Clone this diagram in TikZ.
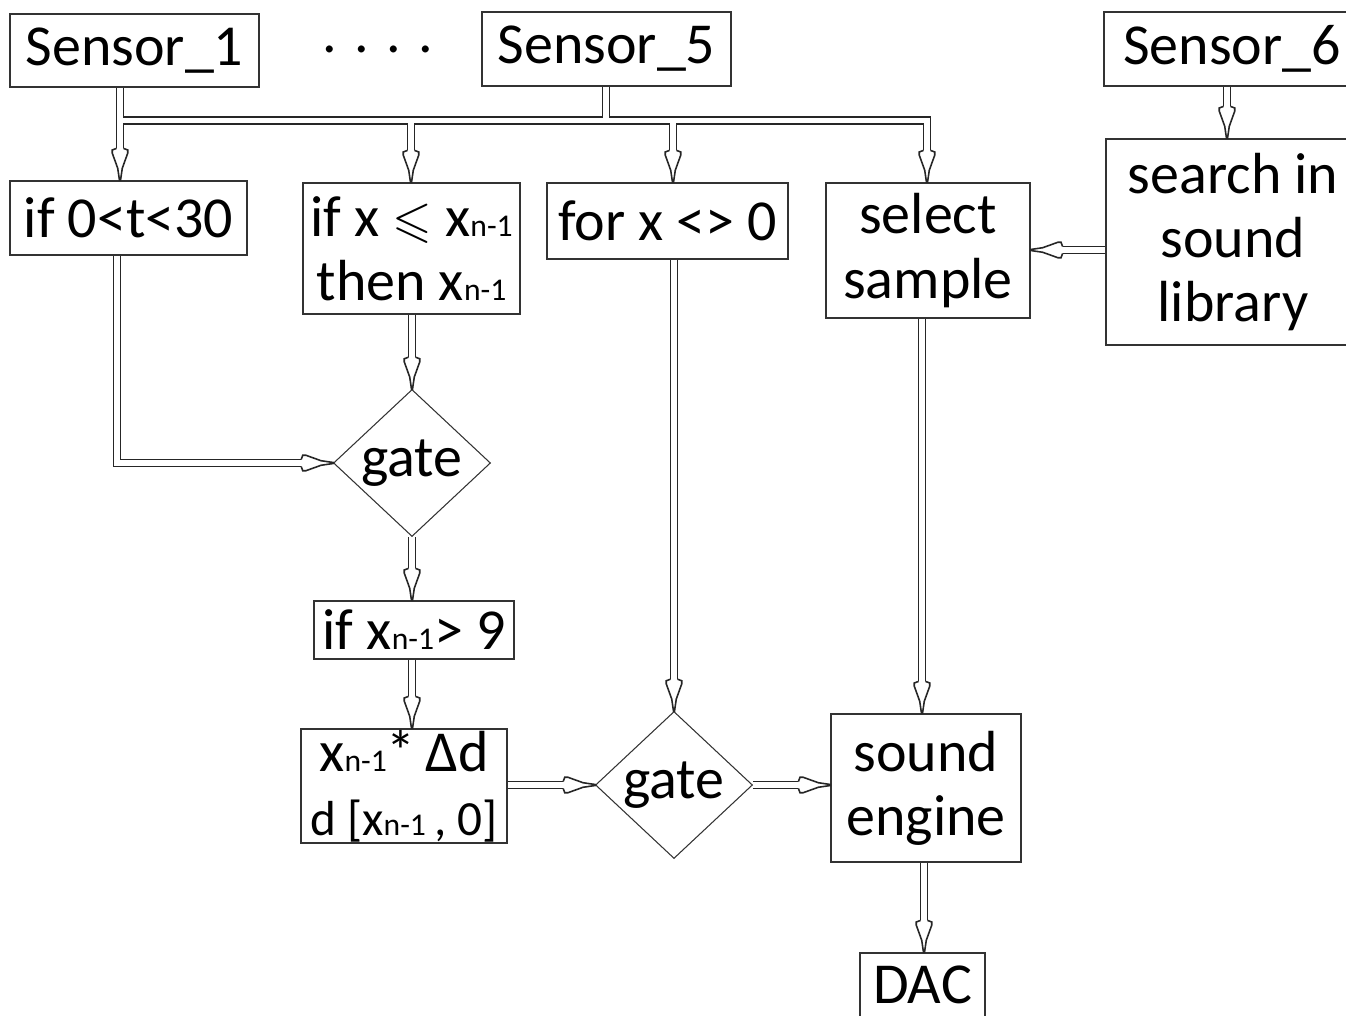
\documentclass[tikz,border=0pt]{standalone}
\usepackage{amssymb}
\usepackage{fontspec}
\setmainfont{Carlito}
\usetikzlibrary{shapes.geometric,decorations.markings,calc}

% one unit of the drawing grid
\def\pxu{0.02cm}
\newcommand\bodyfont{\fontsize{33}{36.5}\selectfont}
\newcommand\smallfont{\fontsize{28}{32}\selectfont}
\newcommand\subn{{\fontsize{18}{18}\selectfont n-1}}
\newcommand\leqsym{{\fontsize{29}{29}\selectfont$\leqslant$}}

\tikzset{
  box/.style={draw=black!80, line width=0.9pt, inner sep=0pt, align=center, font=\bodyfont},
  gatebox/.style={diamond, draw=black!80, line width=0.6pt, inner sep=-3pt, font=\bodyfont,
    minimum width=157*\pxu, minimum height=147*\pxu},
  pipe/.style={draw=black!85, line width=0.9pt, double=white, double distance=3.1pt},
  tip/.style={postaction={decorate, decoration={markings, mark=at position 1 with {
      \draw[draw=black!85, line width=0.9pt, fill=white, line join=miter,
            shorten >=0pt, shorten <=0pt]
        (-18.1pt,2pt) -- (-17.2pt,4.4pt) -- (-15.4pt,4.4pt) -- (-6.8pt,1.3pt) -- (0pt,0.3pt)
        -- (0pt,-0.3pt) -- (-6.8pt,-1.3pt) -- (-15.4pt,-4.4pt) -- (-17.2pt,-4.4pt) -- (-18.1pt,-2pt);}}}},
  flow/.style={pipe, shorten >=18pt, tip},
}

\begin{document}
\begin{tikzpicture}[x=0.02cm, y=-0.02cm]
\useasboundingbox (0,0) rectangle (1346,1016);

% sensors
\node[box, minimum width=249*\pxu, minimum height=73*\pxu] (s1) at (134.5,50.5) {Sensor\_1};
\node[anchor=base, font=\bodyfont, inner sep=0pt] (dots) at (378,53) {. . . .};
\node[box, minimum width=249*\pxu, minimum height=74*\pxu] (s5) at (606.5,49) {Sensor\_5};
\node[box, minimum width=256*\pxu, minimum height=74*\pxu] (s6) at (1232,49) {Sensor\_6};

% first processing row
\node[box, minimum width=237*\pxu, minimum height=74*\pxu] (if0) at (128.5,218) {if 0<t<30};
\node[box, minimum width=217*\pxu, minimum height=131*\pxu] (ifx) at (411.5,248.5)
  {if x \leqsym\ x\subn\\then x\subn};
\node[box, minimum width=241*\pxu, minimum height=76*\pxu] (forx) at (667.5,221) {for x <> 0};
\node[box, minimum width=204*\pxu, minimum height=135*\pxu] (sel) at (928,250.5) {select\\sample};
\node[box, minimum width=254*\pxu, minimum height=206*\pxu] (search) at (1233,242)
  {search in\\sound\\library};

% gates and processing chain
\node[gatebox] (gate1) at (412,463) {gate};
\node[box, minimum width=200*\pxu, minimum height=58*\pxu] (ifx9) at (414,630) {if x\subn> 9};
\node[box, minimum width=206*\pxu, minimum height=114*\pxu] (mul) at (404,786)
  {x\subn*\,Δd\\{\smallfont d [x\subn\,, 0]}};
\node[gatebox] (gate2) at (674,785) {gate};
\node[box, minimum width=190*\pxu, minimum height=148*\pxu] (eng) at (926,788) {sound\\engine};
\node[box, minimum width=125*\pxu, minimum height=64*\pxu] (dac) at (922.5,985) {DAC};

% connector columns and rows
\coordinate (bus) at (0,120.5);
\coordinate (cA) at (120,0);
\coordinate (cB) at (411,0);
\coordinate (cC) at (673,0);
\coordinate (cD) at (927,0);
\coordinate (cE) at (606,0);
\coordinate (cF) at (117,0);
\coordinate (cG) at (1227,0);
\coordinate (cH) at (0,250);
\coordinate (cI) at (922,0);
\coordinate (cJ) at (924,0);

% sensor bus feeding the first row
\draw[pipe]
  (s1.south -| cA) -- ($(if0.north -| cA)+(0,18pt)$)
  (s5.south -| cE) -- (cE |- bus) -- (cA |- bus)
  (cE |- bus) -- (cD |- bus) -- ($(sel.north -| cD)+(0,18pt)$)
  (cB |- bus) -- ($(ifx.north -| cB)+(0,18pt)$)
  (cC |- bus) -- ($(forx.north -| cC)+(0,18pt)$);
\path[tip] (s1.south -| cA) -- (if0.north -| cA);
\path[tip] (cB |- bus) -- (ifx.north -| cB);
\path[tip] (cC |- bus) -- (forx.north -| cC);
\path[tip] (cD |- bus) -- (sel.north -| cD);

% remaining connectors
\draw[flow] (s6.south -| cG) -- (search.north -| cG);
\draw[flow] (search.west |- cH) -- (sel.east |- cH);
\draw[flow] (if0.south -| cF) |- (gate1.west);
\draw[flow] (ifx.south -| gate1.north) -- (gate1.north);
\draw[flow] (gate1.south) -- (ifx9.north -| gate1.south);
\draw[flow] (ifx9.south -| gate1.south) -- (mul.north -| gate1.south);
\draw[flow] (forx.south -| gate2.north) -- (gate2.north);
\draw[flow] (sel.south -| cI) -- (eng.north -| cI);
\draw[flow] (mul.east |- gate2.west) -- (gate2.west);
\draw[flow] (gate2.east) -- (eng.west |- gate2.east);
\draw[flow] (eng.south -| cJ) -- (dac.north -| cJ);
\end{tikzpicture}
\end{document}
